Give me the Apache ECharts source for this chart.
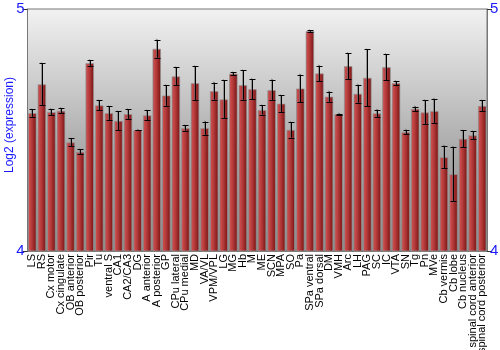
<!DOCTYPE html>
<html><head><meta charset="utf-8">
<script src="https://cdn.jsdelivr.net/npm/echarts@6/dist/echarts.min.js"></script>
<style>html,body{margin:0;padding:0;background:#fff}#c{width:500px;height:350px}</style>
</head><body><div id="c"></div>
<script>
var categories = ["LS","RS","Cx motor","Cx cingulate","OB anterior","OB posterior","Pir","Tu","ventral S","CA1","CA2/CA3","DG","A anterior","A posterior","GP","CPu lateral","CPu medial","MD","VA/VL","VPM/VPL","LG","MG","Hb","M","ME","SCN","MPA","SO","Pa","SPa ventral","SPa dorsal","DM","VMH","Arc","LH","PAG","SC","IC","VTA","SN","Tg","Pn","MVe","Cb vermis","Cb lobe","Cb nucleus","spinal cord anterior","spinal cord posterior"];
var values = [4.570,4.689,4.574,4.580,4.449,4.410,4.777,4.602,4.570,4.538,4.566,4.500,4.561,4.836,4.643,4.722,4.508,4.694,4.508,4.661,4.627,4.733,4.686,4.669,4.583,4.665,4.609,4.501,4.672,4.909,4.734,4.638,4.566,4.764,4.650,4.716,4.569,4.760,4.694,4.492,4.588,4.573,4.579,4.388,4.318,4.464,4.478,4.600];
var errors = [0.015,0.087,0.013,0.011,0.016,0.010,0.012,0.021,0.028,0.039,0.020,0.001,0.020,0.037,0.043,0.037,0.011,0.070,0.027,0.035,0.079,0.005,0.061,0.042,0.019,0.043,0.034,0.032,0.057,0.003,0.032,0.021,0.002,0.054,0.037,0.117,0.015,0.054,0.008,0.009,0.009,0.050,0.050,0.047,0.113,0.034,0.017,0.022];
var yTicks = [4, 5];

var chart = echarts.init(document.getElementById('c'), null, {renderer: 'canvas'});
var errData = values.map(function (v, i) { return [i, v - errors[i], v + errors[i]]; });
var yAxisCommon = {
  type: 'value', min: yTicks[0], max: yTicks[1], interval: 1,
  axisLine: {show: true, lineStyle: {color: '#777', width: 1}},
  axisTick: {show: true, length: 5, lineStyle: {color: '#333'}},
  axisLabel: {color: '#1a1aff', fontSize: 15, fontFamily: 'Liberation Sans, Arial', margin: 3},
  splitLine: {show: false}
};
chart.setOption({
  animation: false,
  backgroundColor: '#fff',
  grid: {left: 27.5, right: 13, top: 9, bottom: 99, containLabel: false, outerBoundsMode: 'none',
    show: true, borderColor: '#777', borderWidth: 1,
    backgroundColor: {type: 'linear', x: 0, y: 0, x2: 0, y2: 1, colorStops: [
      {offset: 0, color: '#f2f2f2'}, {offset: 0.6, color: '#a8a8a8'}, {offset: 1, color: '#8c8c8c'}]}},
  xAxis: {
    type: 'category', data: categories,
    axisLine: {show: true, lineStyle: {color: '#777'}},
    axisTick: {show: false},
    axisLabel: {rotate: 90, interval: 0, color: '#000', fontSize: 11, fontFamily: 'Liberation Sans, Arial', margin: 3}
  },
  yAxis: [
    Object.assign({}, yAxisCommon, {position: 'left', name: 'Log2 (expression)', nameLocation: 'middle', nameGap: 12,
      nameMoveOverlap: false,
      nameTextStyle: {color: '#1a1aff', fontSize: 12, fontFamily: 'Liberation Sans, Arial', padding: [0, 0, 0, 10]}}),
    Object.assign({}, yAxisCommon, {position: 'right'})
  ],
  series: [
    {
      type: 'bar', data: values, barCategoryGap: '10%',
      itemStyle: {
        borderColor: 'rgba(150,150,150,0.7)', borderWidth: 1,
        color: {type: 'linear', x: 0, y: 0, x2: 1, y2: 0, colorStops: [
          {offset: 0, color: '#8e2424'}, {offset: 0.15, color: '#cc4c4c'}, {offset: 0.45, color: '#b33a3a'}, {offset: 1, color: '#761010'}]}
      }
    },
    {
      type: 'custom', data: errData, z: 10,
      renderItem: function (params, api) {
        var x = api.value(0);
        var lo = api.coord([x, api.value(1)]);
        var hi = api.coord([x, api.value(2)]);
        var cx = Math.round(lo[0]) + 0.5;
        var w = 3;
        var children = [
          {type: 'line', shape: {x1: cx - 1, y1: hi[1] - 1, x2: cx - 1, y2: lo[1] + 1}, style: {stroke: 'rgba(110,110,110,0.6)', lineWidth: 1}},
          {type: 'line', shape: {x1: cx, y1: hi[1], x2: cx, y2: lo[1]}, style: {stroke: '#000', lineWidth: 1}},
          {type: 'line', shape: {x1: cx - w, y1: Math.round(hi[1]) + 0.5, x2: cx + w, y2: Math.round(hi[1]) + 0.5}, style: {stroke: '#000', lineWidth: 1}},
          {type: 'line', shape: {x1: cx - w, y1: Math.round(lo[1]) + 0.5, x2: cx + w, y2: Math.round(lo[1]) + 0.5}, style: {stroke: '#000', lineWidth: 1}}
        ];
        return {type: 'group', children: children};
      }
    }
  ]
});
</script>
</body></html>
